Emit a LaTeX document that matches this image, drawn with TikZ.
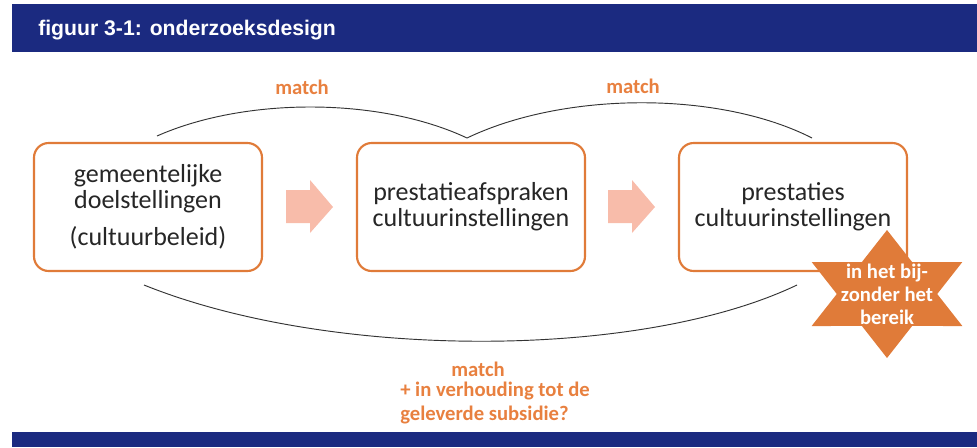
\documentclass[tikz,border=0pt]{standalone}
\usepackage{fontspec}
\setmainfont{Carlito}
\newfontfamily\kopfont{Liberation Sans}

\begin{document}
\begin{tikzpicture}[x=0.75pt,y=-0.75pt,
  fase/.style={draw=kader,line width=1.6pt,rounded corners=11pt,fill=white,
    minimum width=171pt,minimum height=96pt,align=center,text=tekst,
    font=\fontsize{19.5}{19.5}\selectfont},
  oranje/.style={text=labeloranje,font=\fontsize{15.5}{17.3}\selectfont\bfseries},
  boog/.style={draw=black!80,line width=0.7pt}]
\definecolor{kopblauw}{HTML}{1B2A80}
\definecolor{kader}{HTML}{E07B39}
\definecolor{labeloranje}{HTML}{E8803F}
\definecolor{pijlroze}{HTML}{F8BCAA}
\definecolor{tekst}{HTML}{262626}
\useasboundingbox (0,0) rectangle (977,447);
% kop en voet
\fill[kopblauw] (12,4) rectangle (977,52);
\fill[kopblauw] (12,432) rectangle (977,447);
\node[anchor=base west,inner sep=0pt,text=white,font=\kopfont\bfseries\fontsize{15.9}{18}\selectfont] (kop) at (38,35) {figuur 3-1: onderzoeksdesign};
% de drie fasen
\node[fase] (doelen) at (148,207) {gemeentelijke\\doelstellingen\\[8pt](cultuurbeleid)};
\node[fase] (afspraken) at (471,207) {prestatieafspraken\\cultuurinstellingen};
\node[fase] (prestaties) at (793,207) {prestaties\\cultuurinstellingen};
\foreach \ax in {286,608}
  {\fill[pijlroze] (\ax,190) -- (\ax+24,190) -- (\ax+24,180) -- (\ax+47,207) -- (\ax+24,233) -- (\ax+24,223) -- (\ax,223) -- cycle;}
% boogjes
\coordinate (t1) at (157,136);
\coordinate (t2) at (467,138);
\coordinate (t3) at (812,138);
\coordinate (b1) at (144,285);
\coordinate (b2) at (797,285);
\draw[boog] (t1) .. controls (245,97) and (380,97) .. (t2);
\draw[boog] (t2) .. controls (565,91) and (720,91) .. (t3);
\draw[boog] (b1) .. controls (330,360) and (640,360) .. (b2);
\node[oranje] (match1) at (302,87) {match};
\node[oranje] (match2) at (633,86) {match};
\node[oranje] (match3) at (478,369) {match};
\node[oranje,anchor=west,align=left,inner sep=0pt] (subsidie) at (400,403) {+ in verhouding tot de\\geleverde subsidie?};
% ster
\begin{scope}[shift={(887,294)},xscale=87,yscale=64]
\fill[kader] (90:1) \foreach \a in {60,0,-60,-120,180,120} { -- (\a:0.577) -- (\a-30:1)} -- cycle;
\end{scope}
\node[align=center,text=white,font=\fontsize{15.5}{17.3}\selectfont\bfseries] (bereik) at (887,294) {in het bij-\\zonder het\\bereik};
\end{tikzpicture}
\end{document}
